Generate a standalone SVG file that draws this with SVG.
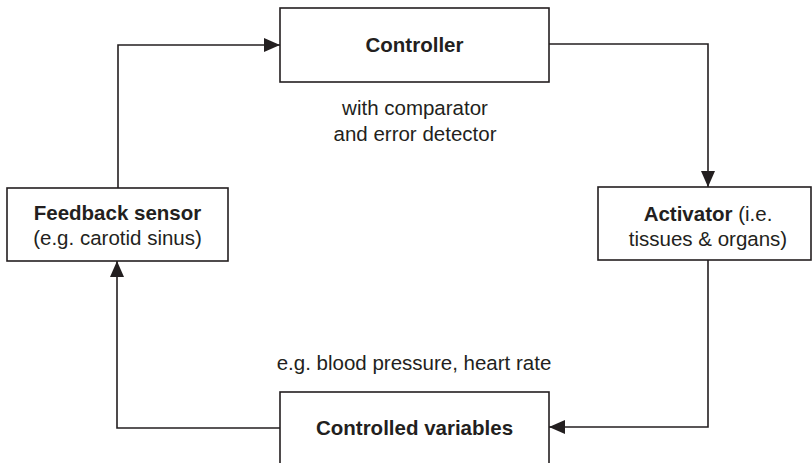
<svg xmlns="http://www.w3.org/2000/svg" width="812" height="463" viewBox="0 0 812 463">
<defs>
<style>
.box{fill:#fff;stroke:#231f20;stroke-width:1.6}
.con{fill:none;stroke:#231f20;stroke-width:1.6}
text{font-family:"Liberation Sans",Arial,sans-serif;font-size:20.5px;fill:#231f20;text-anchor:middle}
.b{font-weight:bold}
</style>
<marker id="ah" viewBox="0 0 16 14" refX="16" refY="7" markerWidth="16" markerHeight="14" markerUnits="userSpaceOnUse" orient="auto">
<path d="M0,0 L16,7 L0,14 Z" fill="#231f20"/>
</marker>
</defs>
<g id="connectors">
<path class="con" d="M118,188 V45 H280" marker-end="url(#ah)"/>
<path class="con" d="M549,44 H708 V187" marker-end="url(#ah)"/>
<path class="con" d="M708,260 V427 H549" marker-end="url(#ah)"/>
<path class="con" d="M280,428 H117 V261" marker-end="url(#ah)"/>
</g>
<g id="controller">
<rect class="box" x="280" y="8" width="269" height="74"/>
<text class="b" x="414.5" y="52">Controller</text>
</g>
<g id="controller-note">
<text x="415" y="115">with comparator</text>
<text x="415" y="141">and error detector</text>
</g>
<g id="activator">
<rect class="box" x="598" y="187" width="213" height="73"/>
<text x="708" y="221"><tspan class="b">Activator</tspan> (i.e.</text>
<text x="708" y="246">tissues &amp; organs)</text>
</g>
<g id="feedback-sensor">
<rect class="box" x="7" y="188" width="221" height="73"/>
<text class="b" x="117.5" y="220">Feedback sensor</text>
<text x="117.5" y="245">(e.g. carotid sinus)</text>
</g>
<g id="variables-note">
<text x="414" y="370">e.g. blood pressure, heart rate</text>
</g>
<g id="controlled-variables">
<rect class="box" x="280" y="392" width="269" height="80"/>
<text class="b" x="414.5" y="435">Controlled variables</text>
</g>
</svg>
